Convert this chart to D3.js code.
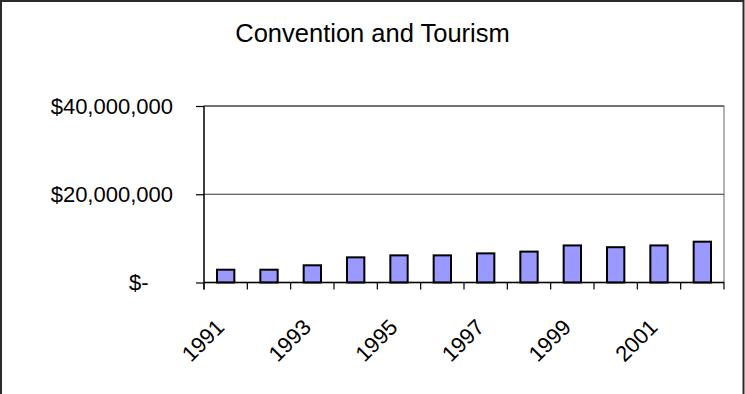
<!DOCTYPE html>
<html>
<head>
<meta charset="utf-8">
<script src="https://cdn.jsdelivr.net/npm/d3@7"></script>
<style>
  html, body { margin: 0; padding: 0; background: #fff; }
  svg { display: block; font-family: Arial, "Liberation Sans", sans-serif; }
</style>
</head>
<body>
<svg id="chart" width="745" height="394"></svg>
<script>
// Annual Convention and Tourism funding, 1991–2002 (US dollars)
const years = [1991, 1992, 1993, 1994, 1995, 1996, 1997, 1998, 1999, 2000, 2001, 2002];
const funding = [2900000, 2900000, 3900000, 5700000, 6150000, 6150000,
                 6600000, 7000000, 8400000, 8000000, 8400000, 9250000];
const yTicks = [0, 20000000, 40000000];
const yTickLabels = ["$-", "$20,000,000", "$40,000,000"];
const xLabelYears = [1991, 1993, 1995, 1997, 1999, 2001];

const W = 745, H = 394;
const plot = { left: 204, right: 724, top: 106, bottom: 282.5 };
const fontSize = 22;

const svg = d3.select("#chart");

// outer chart frame
svg.append("rect")
  .attr("x", 1).attr("y", 1)
  .attr("width", W - 2.5).attr("height", H + 10)
  .attr("fill", "#fff").attr("stroke", "#2b2b2b").attr("stroke-width", 2);

const x = d3.scaleBand().domain(years).range([plot.left, plot.right]).padding(0);
const y = d3.scaleLinear().domain([0, 40000000]).range([plot.bottom, plot.top]);

// plot-area border (right side visible in grey)
svg.append("rect")
  .attr("x", plot.left).attr("y", plot.top)
  .attr("width", plot.right - plot.left).attr("height", plot.bottom - plot.top)
  .attr("fill", "none").attr("stroke", "#808080").attr("stroke-width", 1.2);

// horizontal gridlines
svg.append("g")
  .selectAll("line")
  .data(yTicks.filter(d => d > 0))
  .join("line")
  .attr("x1", plot.left).attr("x2", plot.right)
  .attr("y1", d => y(d)).attr("y2", d => y(d))
  .attr("stroke", "#333").attr("stroke-width", 1.2);

// bars: gap width 150% of bar width
const barW = x.bandwidth() / 2.5;
svg.append("g")
  .selectAll("rect")
  .data(years.map((yr, i) => ({ yr, v: funding[i] })))
  .join("rect")
  .attr("x", d => x(d.yr) + (x.bandwidth() - barW) / 2)
  .attr("y", d => y(d.v))
  .attr("width", barW)
  .attr("height", d => y(0) - y(d.v))
  .attr("fill", "#9999FF")
  .attr("stroke", "#000")
  .attr("stroke-width", 2);

// y axis
const yAxis = d3.axisLeft(y)
  .tickValues(yTicks)
  .tickSize(8)
  .tickPadding(0)
  .tickFormat("");
const gy = svg.append("g")
  .attr("transform", `translate(${plot.left},0)`)
  .call(yAxis);
gy.select(".domain").attr("stroke", "#000").attr("stroke-width", 1.3)
  .attr("d", `M0,${plot.top}V${plot.bottom + 7}`);
gy.selectAll(".tick line").attr("stroke", "#000").attr("stroke-width", 1.2);

// accounting-style labels: the dash is padded by two digit widths
svg.append("g")
  .selectAll("text")
  .data(yTicks)
  .join("text")
  .attr("x", 173)
  .attr("y", d => y(d))
  .attr("dy", "0.36em")
  .attr("dx", d => d === 0 ? -2 * 0.556 * fontSize : 0)
  .attr("text-anchor", "end")
  .attr("font-size", fontSize)
  .attr("fill", "#000")
  .text((d, i) => yTickLabels[i]);

// x axis with ticks at category boundaries
const edges = years.map(yr => x(yr)).concat([plot.right]);
const gx = svg.append("g");
gx.append("line")
  .attr("x1", plot.left).attr("x2", plot.right)
  .attr("y1", plot.bottom).attr("y2", plot.bottom)
  .attr("stroke", "#000").attr("stroke-width", 1.3);
gx.selectAll("line.tick")
  .data(edges)
  .join("line")
  .attr("class", "tick")
  .attr("x1", d => d).attr("x2", d => d)
  .attr("y1", plot.bottom).attr("y2", plot.bottom + 7)
  .attr("stroke", "#000").attr("stroke-width", 1.2);

// rotated year labels, every second year
gx.selectAll("text")
  .data(xLabelYears)
  .join("text")
  .attr("transform", d => `translate(${x(d) + x.bandwidth() / 2},${plot.bottom + 46}) rotate(-45)`)
  .attr("text-anchor", "end")
  .attr("font-size", fontSize)
  .attr("fill", "#000")
  .text(d => d);

// title
svg.append("text")
  .attr("x", 372.5).attr("y", 42)
  .attr("text-anchor", "middle")
  .attr("font-size", 25.5)
  .attr("fill", "#000")
  .text("Convention and Tourism");
</script>
</body>
</html>
